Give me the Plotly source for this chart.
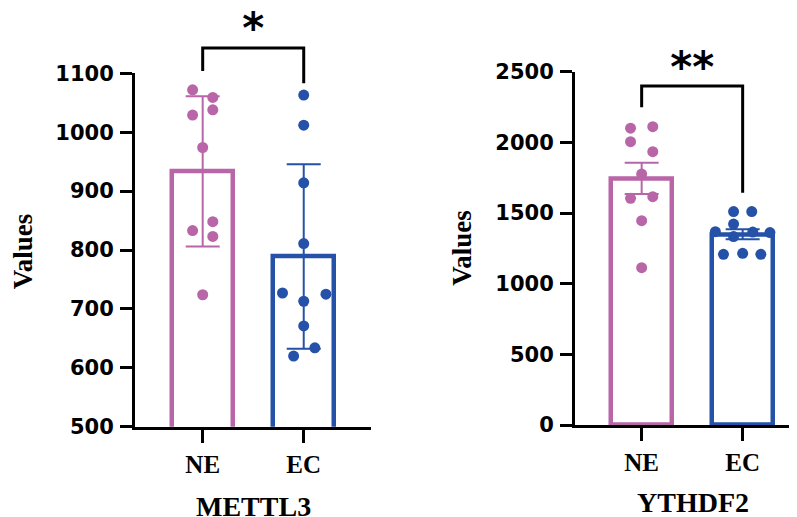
import numpy as np
import plotly.graph_objects as go

# ---------------- data ----------------
groups = ["NE", "EC"]
genes = ["METTL3", "YTHDF2"]

mettl3_ne = [1072, 1059, 1029, 1038, 974, 833, 848, 823, 724]
mettl3_ec = [1063, 1012, 914, 811, 727, 725, 713, 671, 634, 620]
ythdf2_ne = [2100, 2111, 2005, 1934, 1776, 1604, 1616, 1446, 1113]
ythdf2_ec = [1510, 1510, 1422, 1368, 1333, 1365, 1362, 1208, 1215, 1208]

significance = ["*", "**"]
mettl3_ticks = [500, 600, 700, 800, 900, 1000, 1100]
ythdf2_ticks = [0, 500, 1000, 1500, 2000, 2500]

# horizontal spread of the dots (layout, not data)
mettl3_ne_dx = [-0.10, 0.10, -0.10, 0.10, 0.0, -0.10, 0.10, 0.10, 0.0]
mettl3_ec_dx = [0.0, 0.0, 0.0, 0.0, -0.21, 0.22, 0.0, 0.0, 0.11, -0.10]
ythdf2_ne_dx = [-0.11, 0.11, -0.11, 0.11, 0.0, -0.11, 0.11, 0.0, 0.0]
ythdf2_ec_dx = [-0.09, 0.09, -0.09, -0.27, -0.09, 0.10, 0.27, -0.19, 0.0, 0.18]

PINK = "#B866A8"
BLUE = "#2552A8"
COLORS = [PINK, BLUE]

# the page body adds an 8px margin, so the figure is sized to fill the rest
OFF = 8
W, H = 797 - OFF, 517 - OFF


def px_x(p):
    return (p - OFF) / W


def px_y(p):
    return 1 - (p - OFF) / H


fig = go.Figure()

panels = [
    dict(ax="", xdom=(135, 370.7), ydom=(73.3, 426.7), yr=(500, 1100),
         xr=(-0.67, 1.663), ne=mettl3_ne, ec=mettl3_ec,
         dx=(mettl3_ne_dx, mettl3_ec_dx), err="sd", ticks=mettl3_ticks,
         bracket=[1104, 1143, 1143, 1083], sig=(significance[0], 1170)),
    dict(ax="2", xdom=(575, 797), ydom=(71.7, 425), yr=(0, 2500),
         xr=(-0.66, 1.538), ne=ythdf2_ne, ec=ythdf2_ec,
         dx=(ythdf2_ne_dx, ythdf2_ec_dx), err="sem", ticks=ythdf2_ticks,
         bracket=[2248, 2399, 2399, 1644], sig=(significance[1], 2500)),
]

yfont = dict(family="DejaVu Sans", size=21, color="black", weight="bold")
xfont = dict(family="Liberation Serif", size=25, color="black", weight="bold")
common_y = dict(showgrid=False, zeroline=False, showline=True, linewidth=3,
                linecolor="black", ticks="outside", ticklen=12, tickwidth=3,
                tickcolor="black", tickfont=yfont, automargin=False,
                fixedrange=True, ticklabelstandoff=2)
common_x = dict(showgrid=False, zeroline=False, showline=True, linewidth=3,
                linecolor="black", ticks="outside", ticklen=13, tickwidth=3,
                tickcolor="black", tickfont=xfont, tickvals=[0, 1],
                ticktext=groups, automargin=False, fixedrange=True)

layout_axes = {}
for k, p in enumerate(panels):
    main_x = "x" + p["ax"]
    main_y = "y" + p["ax"]
    over_n = str(3 + k)
    over_x = "x" + over_n
    over_y = "y" + over_n
    xd = [px_x(p["xdom"][0]), min(1.0, px_x(p["xdom"][1]))]
    yd = [px_y(p["ydom"][1]), px_y(p["ydom"][0])]
    layout_axes["xaxis" + p["ax"]] = dict(domain=xd, range=list(p["xr"]),
                                          anchor=main_y, **common_x)
    layout_axes["yaxis" + p["ax"]] = dict(domain=yd, range=list(p["yr"]),
                                          tickvals=p["ticks"], anchor=main_x,
                                          **common_y)
    # invisible overlay axes with the same scale, reaching to the top of the
    # figure, to hold the significance bracket above the value axis
    scale = (p["ydom"][1] - p["ydom"][0]) / (p["yr"][1] - p["yr"][0])
    top_val = p["yr"][0] + (p["ydom"][1] - OFF) / scale
    layout_axes["xaxis" + over_n] = dict(domain=xd, range=list(p["xr"]),
                                         anchor=over_y, visible=False,
                                         fixedrange=True)
    layout_axes["yaxis" + over_n] = dict(domain=[yd[0], 1.0],
                                         range=[p["yr"][0], top_val],
                                         anchor=over_x, visible=False,
                                         fixedrange=True)

    series = [p["ne"], p["ec"]]
    for i, vals in enumerate(series):
        v = np.array(vals, dtype=float)
        mean = v.mean()
        sd = v.std(ddof=1)
        err = sd if p["err"] == "sd" else sd / np.sqrt(len(v))
        fig.add_trace(go.Bar(
            x=[i], y=[mean], width=0.6, xaxis=main_x, yaxis=main_y,
            marker=dict(color="white", line=dict(color=COLORS[i], width=4.5)),
            error_y=dict(type="data", array=[err], visible=True,
                         color=COLORS[i], thickness=2, width=17),
            showlegend=False, hoverinfo="skip",
        ))
    for i, vals in enumerate(series):
        fig.add_trace(go.Scatter(
            x=[i + d for d in p["dx"][i]], y=vals, mode="markers",
            xaxis=main_x, yaxis=main_y,
            marker=dict(color=COLORS[i], size=11, line=dict(width=0)),
            showlegend=False, hoverinfo="skip",
        ))
    fig.add_trace(go.Scatter(
        x=[0, 0, 1, 1], y=p["bracket"], mode="lines", xaxis=over_x,
        yaxis=over_y, line=dict(color="black", width=3),
        showlegend=False, hoverinfo="skip",
    ))
    fig.add_trace(go.Scatter(
        x=[0.5], y=[p["sig"][1]], mode="text", text=[p["sig"][0]],
        xaxis=over_x, yaxis=over_y, textposition="middle center",
        textfont=dict(family="DejaVu Sans", size=42, color="black",
                      weight="bold"),
        showlegend=False, hoverinfo="skip",
    ))

fig.update_layout(
    template="none",
    width=W, height=H,
    margin=dict(l=0, r=0, t=0, b=0, autoexpand=False),
    paper_bgcolor="white", plot_bgcolor="rgba(0,0,0,0)",
    showlegend=False,
    bargap=0,
    **layout_axes,
)

tfont = dict(family="Liberation Serif", size=28, color="black", weight="bold")
vfont = dict(family="Liberation Serif", size=27, color="black", weight="bold")
annots = [
    dict(text="Values", x=px_x(23.3), y=px_y(251), textangle=-90, font=vfont),
    dict(text="Values", x=px_x(461.7), y=px_y(248), textangle=-90, font=vfont),
    dict(text=genes[0], x=px_x(253.8), y=px_y(506), font=tfont),
    dict(text=genes[1], x=px_x(692.5), y=px_y(502), font=tfont),
]
for a in annots:
    fig.add_annotation(xref="paper", yref="paper", xanchor="center",
                       yanchor="middle", showarrow=False, **a)

fig.write_html("out.html")
